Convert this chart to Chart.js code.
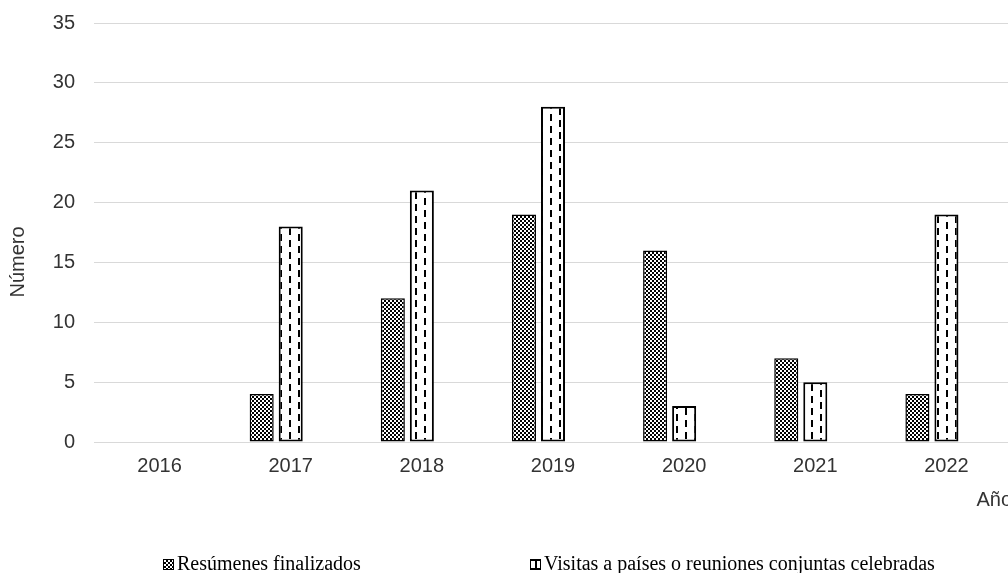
<!DOCTYPE html>
<html>
<head>
<meta charset="utf-8">
<script src="https://cdn.jsdelivr.net/npm/chart.js@4"></script>
<style>
  html, body { margin: 0; padding: 0; background: #fff; overflow: hidden; }
  #wrap { position: relative; width: 1008px; height: 573px; overflow: hidden; }
  #chart { position: absolute; left: 0; top: 0; }
  .leg { position: absolute; top: 553px; font: 20px "Liberation Serif", "Times New Roman", serif; line-height: 20px; color: #000; white-space: nowrap; }
  .sw { position: absolute; top: 559px; width: 11px; height: 11px; box-sizing: border-box; border: 1px solid #000; }
  #sw1 { left: 163px; background: repeating-conic-gradient(#000 0 25%, #fff 0 50%) 0 0 / 4px 4px; }
  #sw2 { left: 530px; border-width: 2px 1px; background: linear-gradient(to right, #fff 4px, #000 4px, #000 6px, #fff 6px); }
</style>
</head>
<body>
<div id="wrap">
  <canvas id="chart" width="1016" height="573"></canvas>
  <div class="sw" id="sw1"></div>
  <div class="leg" style="left:177px">Resúmenes finalizados</div>
  <div class="sw" id="sw2"></div>
  <div class="leg" style="left:544px">Visitas a países o reuniones conjuntas celebradas</div>
</div>
<script>
// data
const years = ["2016", "2017", "2018", "2019", "2020", "2021", "2022"];
const resumenes = [null, 4, 12, 19, 16, 7, 4];
const visitas = [null, 18, 21, 28, 3, 5, 19];
const hueco = [null, null, null, null, null, null, null]; // empty third series of the original
const yMin = 0, yMax = 35, yStep = 5;

const canvas = document.getElementById("chart");
const ctx = canvas.getContext("2d");

// small checkerboard fill
function checker() {
    const c = document.createElement("canvas");
    c.width = 4; c.height = 4;
    const g = c.getContext("2d");
    g.fillStyle = "#fff"; g.fillRect(0, 0, 4, 4);
    g.fillStyle = "#000"; g.fillRect(0, 0, 2, 2); g.fillRect(2, 2, 2, 2);
    return ctx.createPattern(c, "repeat");
}

// vertical dashed lines fill, columns every 9px, staggered
function dashes() {
    const c = document.createElement("canvas");
    c.width = 18; c.height = 12;
    const g = c.getContext("2d");
    g.fillStyle = "#fff"; g.fillRect(0, 0, 18, 12);
    g.fillStyle = "#000";
    g.fillRect(1, 0, 2, 7);
    g.fillRect(10, 6, 2, 6);
    g.fillRect(10, 0, 2, 1);
    return ctx.createPattern(c, "repeat");
}

const font = { family: "'Liberation Sans', Arial, sans-serif", size: 20 };

// y axis title sits a bit below the middle of the axis, as in the original
const yTitle = {
    id: "yTitle",
    afterDraw(chart) {
        const c = chart.ctx;
        c.save();
        c.translate(18, 262);
        c.rotate(-Math.PI / 2);
        c.font = "20px 'Liberation Sans', Arial, sans-serif";
        c.fillStyle = "#333";
        c.textAlign = "center";
        c.textBaseline = "middle";
        c.fillText("Número", 0, 0);
        c.restore();
    }
};

new Chart(ctx, {
    type: "bar",
    data: {
        labels: years,
        datasets: [
            {
                label: "Resúmenes finalizados",
                data: resumenes,
                backgroundColor: checker(),
                borderColor: "#000",
                borderWidth: 1.5,
                borderSkipped: false
            },
            {
                label: "Visitas a países o reuniones conjuntas celebradas",
                data: visitas,
                backgroundColor: dashes(),
                borderColor: "#000",
                borderWidth: 2,
                borderSkipped: false
            },
            {
                label: "",
                data: hueco
            }
        ]
    },
    options: {
        responsive: false,
        animation: false,
        layout: { padding: { top: 23, right: 4, bottom: 61, left: 0 } },
        datasets: { bar: { categoryPercentage: 0.664, barPercentage: 0.828 } },
        plugins: {
            legend: { display: false },
            tooltip: { enabled: false }
        },
        scales: {
            x: {
                grid: { display: false, drawTicks: false },
                border: { color: "#d9d9d9" },
                ticks: { padding: 12, color: "#333", font: font },
                title: {
                    display: true,
                    text: "Año",
                    align: "end",
                    color: "#333",
                    font: font,
                    padding: { top: 9, bottom: 0 }
                },
                afterFit(scale) { scale.height = 70; }
            },
            y: {
                min: yMin,
                max: yMax,
                ticks: { stepSize: yStep, padding: 19, color: "#333", font: font },
                grid: { color: "#d9d9d9", drawTicks: false },
                border: { display: false },
                afterFit(scale) {
                    scale.width = 94;
                    scale.paddingTop = 0;
                    scale.paddingBottom = 0;
                }
            }
        }
    },
    plugins: [yTitle]
});
</script>
</body>
</html>
